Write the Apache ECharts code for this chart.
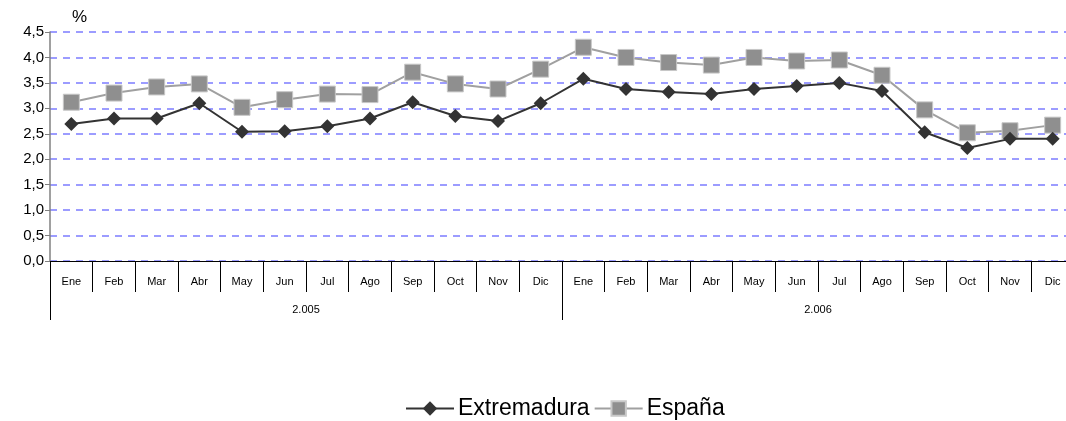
<!DOCTYPE html>
<html>
<head>
<meta charset="utf-8">
<script src="https://cdn.jsdelivr.net/npm/echarts@6/dist/echarts.min.js"></script>
<style>
  html, body { margin: 0; padding: 0; background: #fff; }
  #chart { width: 1066px; height: 421px; }
</style>
</head>
<body>
<div id="chart"></div>
<script>
const months = ['Ene', 'Feb', 'Mar', 'Abr', 'May', 'Jun', 'Jul', 'Ago', 'Sep', 'Oct', 'Nov', 'Dic',
  'Ene', 'Feb', 'Mar', 'Abr', 'May', 'Jun', 'Jul', 'Ago', 'Sep', 'Oct', 'Nov', 'Dic']
const years = ['2.005', '2.006']
const extremadura = [2.69, 2.8, 2.8, 3.1, 2.54, 2.55, 2.65, 2.8, 3.12, 2.85, 2.75, 3.1,
  3.58, 3.38, 3.32, 3.28, 3.38, 3.44, 3.5, 3.34, 2.53, 2.22, 2.4, 2.4]
const espana = [3.12, 3.3, 3.42, 3.48, 3.02, 3.17, 3.28, 3.27, 3.71, 3.48, 3.38, 3.77,
  4.2, 4.0, 3.9, 3.85, 4.0, 3.93, 3.95, 3.65, 2.97, 2.52, 2.56, 2.67]

const chart = echarts.init(document.getElementById('chart'))
const fmt = v => v.toFixed(1).replace('.', ',')

chart.setOption({
  animation: false,
  textStyle: { fontFamily: 'Liberation Sans, Arial, sans-serif' },
  grid: { left: 50, width: 1024, top: 32, bottom: 160, outerBoundsMode: 'none' },
  legend: {
    top: 392,
    left: 400,
    itemGap: 4,
    itemWidth: 48,
    itemHeight: 18,
    textStyle: { fontSize: 23, color: '#000', padding: [0, 0, 0, -1] },
    data: ['Extremadura', 'España']
  },
  xAxis: [
    {
      type: 'category',
      data: months,
      axisLine: { lineStyle: { color: '#000', width: 1 } },
      axisTick: { show: true, interval: 0, length: 31, lineStyle: { color: '#000' } },
      axisLabel: { interval: 0, fontSize: 11, color: '#000', margin: 15 },
      splitLine: { show: false }
    },
    {
      type: 'category',
      position: 'bottom',
      data: years,
      axisLine: { show: false },
      axisTick: { show: true, length: 59, lineStyle: { color: '#000' } },
      axisLabel: { fontSize: 11, color: '#000', margin: 43 },
      splitLine: { show: false }
    }
  ],
  yAxis: {
    type: 'value',
    min: 0,
    max: 4.5,
    interval: 0.5,
    name: '%',
    nameLocation: 'end',
    nameGap: 6,
    nameTextStyle: { fontSize: 17, color: '#000', align: 'left', padding: [0, 0, 0, 22] },
    axisLine: { show: true, lineStyle: { color: '#808080', width: 1.5 } },
    axisTick: { show: true, length: 5, lineStyle: { color: '#808080' } },
    axisLabel: { fontSize: 15, color: '#000', margin: 6, formatter: fmt },
    splitLine: { lineStyle: { color: '#9c9cff', width: 2, type: [7, 6] } }
  },
  series: [
    {
      name: 'Extremadura',
      type: 'line',
      data: extremadura,
      symbol: 'diamond',
      symbolSize: 14,
      itemStyle: { color: '#333333' },
      lineStyle: { color: '#333333', width: 2 },
      z: 3
    },
    {
      name: 'España',
      type: 'line',
      data: espana,
      symbol: 'rect',
      symbolSize: 16,
      itemStyle: { color: '#8f8f8f', borderColor: '#c8c8c8', borderWidth: 1 },
      lineStyle: { color: '#a0a0a0', width: 2 },
      z: 2
    }
  ]
})
</script>
</body>
</html>
